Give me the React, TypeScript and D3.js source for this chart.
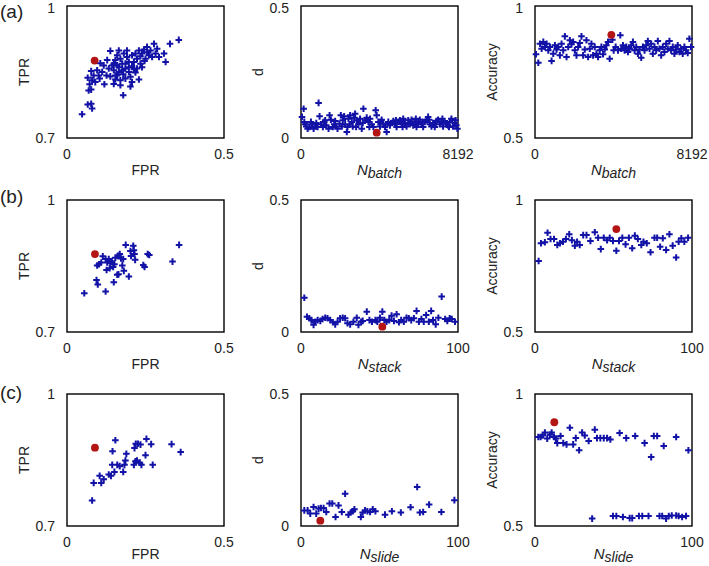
import React from "react";
import * as d3 from "d3";

// ---------- data ----------
const rocBatch: [number, number][] = [
  [0.048, 0.754], [0.066, 0.776], [0.077, 0.778], [0.08, 0.767], [0.069, 0.808], [0.077, 0.81],
  [0.072, 0.822], [0.066, 0.837], [0.08, 0.831], [0.09, 0.827], [0.077, 0.852], [0.104, 0.835],
  [0.119, 0.822], [0.106, 0.87], [0.112, 0.85], [0.126, 0.842], [0.101, 0.842], [0.138, 0.898],
  [0.16, 0.888], [0.154, 0.877], [0.144, 0.865], [0.133, 0.858], [0.149, 0.854], [0.16, 0.842],
  [0.17, 0.831], [0.154, 0.833], [0.165, 0.861], [0.176, 0.869], [0.181, 0.892], [0.191, 0.884],
  [0.186, 0.858], [0.197, 0.85], [0.179, 0.845], [0.186, 0.835], [0.202, 0.839], [0.207, 0.863],
  [0.213, 0.873], [0.223, 0.88], [0.218, 0.892], [0.229, 0.899], [0.239, 0.892], [0.245, 0.901],
  [0.255, 0.895], [0.261, 0.888], [0.25, 0.88], [0.234, 0.869], [0.223, 0.858], [0.229, 0.833],
  [0.202, 0.817], [0.179, 0.797], [0.271, 0.884], [0.282, 0.892], [0.293, 0.884], [0.309, 0.892],
  [0.314, 0.873], [0.277, 0.914], [0.328, 0.914], [0.356, 0.923], [0.266, 0.899], [0.165, 0.899],
  [0.128, 0.877], [0.117, 0.865], [0.138, 0.84], [0.17, 0.82], [0.149, 0.823], [0.207, 0.827],
  [0.218, 0.849], [0.239, 0.861], [0.197, 0.873], [0.17, 0.88], [0.191, 0.899], [0.207, 0.888],
  [0.234, 0.886], [0.16, 0.865], [0.176, 0.854], [0.186, 0.869], [0.197, 0.861], [0.149, 0.869],
  [0.287, 0.903], [0.255, 0.907], [0.247, 0.875], [0.213, 0.856], [0.165, 0.85], [0.154, 0.842],
  [0.096, 0.854], [0.085, 0.842],
];
const dBatch: [number, number][] = [
  [52, 0.08], [139, 0.111], [173, 0.061], [277, 0.044], [346, 0.035], [450, 0.042], [572, 0.052],
  [658, 0.035], [745, 0.044], [797, 0.057], [918, 0.133], [970, 0.082], [1039, 0.052], [1143, 0.042],
  [1212, 0.061], [1316, 0.048], [1437, 0.035], [1490, 0.086], [1559, 0.069], [1663, 0.042],
  [1732, 0.052], [1836, 0.044], [1905, 0.035], [2009, 0.054], [2078, 0.086], [2182, 0.067],
  [2252, 0.082], [2304, 0.052], [2390, 0.023], [2425, 0.042], [2477, 0.073], [2564, 0.086],
  [2650, 0.061], [2702, 0.044], [2771, 0.077], [2823, 0.092], [2910, 0.067], [2996, 0.052],
  [3083, 0.073], [3170, 0.035], [3256, 0.111], [3343, 0.067], [3429, 0.077], [3516, 0.061],
  [3603, 0.073], [3689, 0.052], [3776, 0.042], [3897, 0.105], [3949, 0.086], [4036, 0.061],
  [4122, 0.044], [4209, 0.069], [4295, 0.054], [4382, 0.042], [4469, 0.023], [4555, 0.061],
  [4642, 0.048], [4728, 0.057], [4815, 0.064], [4902, 0.052], [4988, 0.042], [5075, 0.061],
  [5161, 0.067], [5248, 0.052], [5334, 0.073], [5421, 0.057], [5508, 0.044], [5594, 0.067],
  [5681, 0.052], [5768, 0.069], [5854, 0.048], [5941, 0.061], [6027, 0.042], [6114, 0.054],
  [6200, 0.069], [6287, 0.052], [6374, 0.042], [6460, 0.061], [6547, 0.067], [6633, 0.08],
  [6720, 0.052], [6807, 0.044], [6893, 0.057], [6980, 0.042], [7066, 0.064], [7153, 0.069],
  [7240, 0.052], [7326, 0.061], [7413, 0.044], [7499, 0.064], [7586, 0.054], [7672, 0.048],
  [7759, 0.061], [7846, 0.073], [7932, 0.044], [8019, 0.057], [8105, 0.048], [8158, 0.035],
  [225, 0.052], [519, 0.061], [866, 0.042], [1264, 0.067], [1784, 0.064], [2130, 0.044],
  [2529, 0.052], [2875, 0.042], [3222, 0.057], [3568, 0.042], [4157, 0.061], [4503, 0.052],
  [4953, 0.067], [5300, 0.042], [5646, 0.057], [5992, 0.073], [6339, 0.061], [6685, 0.069],
  [7032, 0.052], [7378, 0.073], [7724, 0.042], [8071, 0.067],
];
const accBatch: [number, number][] = [
  [52, 0.817], [173, 0.785], [260, 0.857], [346, 0.838], [433, 0.864], [520, 0.845], [606, 0.857],
  [693, 0.832], [779, 0.845], [866, 0.792], [953, 0.819], [1039, 0.851], [1126, 0.835],
  [1212, 0.845], [1299, 0.813], [1386, 0.857], [1472, 0.832], [1559, 0.885], [1645, 0.807],
  [1732, 0.845], [1819, 0.87], [1905, 0.855], [1992, 0.864], [2078, 0.832], [2165, 0.813],
  [2252, 0.845], [2338, 0.86], [2425, 0.885], [2511, 0.813], [2598, 0.835], [2685, 0.87],
  [2771, 0.807], [2858, 0.838], [2944, 0.857], [3031, 0.813], [3118, 0.845], [3204, 0.819],
  [3291, 0.807], [3377, 0.832], [3464, 0.845], [3551, 0.817], [3637, 0.835], [3724, 0.851],
  [3810, 0.864], [3897, 0.8], [4036, 0.872], [4105, 0.832], [4209, 0.845], [4330, 0.832],
  [4451, 0.889], [4503, 0.838], [4590, 0.851], [4676, 0.832], [4763, 0.845], [4850, 0.826],
  [4936, 0.838], [5023, 0.851], [5109, 0.864], [5196, 0.832], [5283, 0.845], [5369, 0.819],
  [5456, 0.835], [5542, 0.804], [5629, 0.845], [5716, 0.832], [5802, 0.851], [5889, 0.867],
  [5976, 0.838], [6062, 0.857], [6149, 0.819], [6235, 0.845], [6322, 0.832], [6409, 0.867],
  [6495, 0.838], [6582, 0.813], [6668, 0.845], [6755, 0.826], [6842, 0.857], [6928, 0.838],
  [7015, 0.867], [7102, 0.832], [7188, 0.845], [7275, 0.819], [7362, 0.835], [7448, 0.851],
  [7535, 0.826], [7621, 0.838], [7708, 0.819], [7795, 0.845], [7881, 0.832], [7968, 0.822],
  [8054, 0.876], [8140, 0.845],
];
const rocStack: [number, number][] = [
  [0.055, 0.788], [0.094, 0.818], [0.098, 0.808], [0.123, 0.792], [0.149, 0.813], [0.16, 0.83],
  [0.164, 0.831], [0.181, 0.839], [0.197, 0.826], [0.096, 0.851], [0.102, 0.854], [0.109, 0.858],
  [0.114, 0.872], [0.123, 0.866], [0.128, 0.858], [0.133, 0.866], [0.138, 0.856], [0.143, 0.861],
  [0.147, 0.848], [0.151, 0.854], [0.126, 0.841], [0.136, 0.845], [0.154, 0.869], [0.162, 0.873],
  [0.168, 0.877], [0.172, 0.867], [0.179, 0.866], [0.176, 0.851], [0.187, 0.898], [0.202, 0.884],
  [0.204, 0.873], [0.211, 0.896], [0.213, 0.886], [0.215, 0.877], [0.217, 0.864], [0.243, 0.852],
  [0.247, 0.848], [0.257, 0.877], [0.262, 0.875], [0.336, 0.86], [0.357, 0.898],
];
const dStack: [number, number][] = [
  [2.1, 0.13], [3.8, 0.058], [5.3, 0.052], [6.6, 0.045], [8.0, 0.027], [9.1, 0.039], [10.6, 0.045],
  [12.3, 0.042], [13.7, 0.049], [15.4, 0.054], [16.9, 0.052], [18.6, 0.045], [20.3, 0.037],
  [21.8, 0.029], [23.3, 0.039], [24.9, 0.052], [26.6, 0.054], [28.1, 0.052], [29.6, 0.033],
  [31.3, 0.029], [33.4, 0.039], [35.5, 0.054], [36.6, 0.027], [38.3, 0.039], [39.3, 0.042],
  [41.9, 0.077], [43.6, 0.045], [45.2, 0.039], [47.4, 0.045], [48.6, 0.039], [50.3, 0.054],
  [51.8, 0.077], [53.1, 0.045], [54.5, 0.039], [56.2, 0.045], [57.7, 0.062], [59.2, 0.042],
  [60.9, 0.067], [62.4, 0.037], [63.8, 0.045], [65.5, 0.039], [67.2, 0.054], [68.7, 0.052],
  [70.2, 0.045], [71.9, 0.052], [73.6, 0.08], [75.1, 0.039], [76.7, 0.049], [78.2, 0.039],
  [79.7, 0.064], [81.4, 0.039], [82.9, 0.08], [84.1, 0.045], [85.8, 0.029], [87.5, 0.054],
  [89.6, 0.134], [91.8, 0.049], [93.2, 0.042], [94.7, 0.052], [96.0, 0.049], [98.1, 0.039],
];
const accStack: [number, number][] = [
  [2.3, 0.769], [3.8, 0.836], [6.3, 0.84], [8.0, 0.876], [9.9, 0.852], [12.1, 0.852], [14.2, 0.83],
  [15.9, 0.836], [17.8, 0.842], [19.7, 0.852], [21.8, 0.87], [23.5, 0.848], [25.4, 0.827],
  [26.8, 0.842], [28.5, 0.83], [30.7, 0.867], [32.8, 0.867], [35.3, 0.845], [38.1, 0.878],
  [40.2, 0.857], [41.9, 0.814], [43.8, 0.857], [45.9, 0.848], [47.6, 0.857], [49.7, 0.845],
  [51.8, 0.808], [53.5, 0.845], [55.6, 0.857], [57.7, 0.832], [59.8, 0.857], [61.9, 0.817],
  [63.6, 0.865], [65.5, 0.852], [67.7, 0.83], [69.1, 0.842], [71.2, 0.836], [73.6, 0.802],
  [76.1, 0.857], [77.8, 0.857], [79.7, 0.823], [81.4, 0.855], [83.5, 0.811], [85.6, 0.87],
  [87.7, 0.827], [89.9, 0.782], [91.5, 0.842], [93.2, 0.855], [95.1, 0.842], [97.5, 0.857],
];
const rocSlide: [number, number][] = [
  [0.08, 0.758], [0.085, 0.798], [0.104, 0.814], [0.109, 0.798], [0.117, 0.806], [0.133, 0.817],
  [0.14, 0.814], [0.151, 0.823], [0.144, 0.839], [0.16, 0.839], [0.168, 0.836], [0.179, 0.823],
  [0.183, 0.839], [0.186, 0.849], [0.189, 0.864], [0.145, 0.87], [0.154, 0.895], [0.213, 0.839],
  [0.218, 0.847], [0.223, 0.849], [0.232, 0.844], [0.237, 0.839], [0.215, 0.877], [0.219, 0.887],
  [0.226, 0.887], [0.234, 0.885], [0.25, 0.861], [0.253, 0.898], [0.268, 0.886], [0.273, 0.839],
  [0.333, 0.886], [0.362, 0.868],
];
const dSlide: [number, number][] = [
  [2.1, 0.059], [4.2, 0.059], [5.9, 0.047], [8.0, 0.072], [9.7, 0.047], [11.2, 0.066], [12.7, 0.068],
  [14.4, 0.068], [16.1, 0.053], [18.2, 0.085], [19.9, 0.085], [22.0, 0.034], [23.9, 0.078],
  [26.0, 0.053], [28.1, 0.122], [30.2, 0.043], [31.7, 0.051], [33.0, 0.056], [34.0, 0.063],
  [38.1, 0.034], [39.3, 0.051], [40.8, 0.059], [42.3, 0.056], [44.0, 0.053], [45.7, 0.063],
  [47.4, 0.056], [53.5, 0.043], [57.9, 0.056], [63.6, 0.051], [69.8, 0.071], [74.0, 0.148],
  [75.7, 0.051], [77.8, 0.053], [81.6, 0.081], [89.4, 0.053], [97.7, 0.098],
];
const accSlide: [number, number][] = [
  [2.1, 0.837], [3.6, 0.837], [4.9, 0.843], [6.3, 0.854], [7.8, 0.831], [9.5, 0.846], [10.6, 0.854],
  [12.1, 0.837], [13.3, 0.831], [14.2, 0.814], [16.3, 0.841], [18.0, 0.814], [20.1, 0.809],
  [22.2, 0.872], [24.3, 0.809], [26.0, 0.833], [28.1, 0.787], [30.0, 0.854], [31.7, 0.843],
  [34.2, 0.822], [38.1, 0.865], [39.5, 0.833], [41.6, 0.833], [43.8, 0.833], [45.9, 0.833],
  [48.0, 0.828], [53.9, 0.852], [58.1, 0.833], [63.8, 0.841], [69.8, 0.814], [74.0, 0.761],
  [75.7, 0.841], [77.8, 0.841], [82.0, 0.803], [89.9, 0.837], [97.7, 0.787],
  [36.4, 0.528], [49.7, 0.538], [51.8, 0.538], [56.0, 0.534], [60.3, 0.53], [61.9, 0.53],
  [66.2, 0.538], [68.3, 0.538], [72.3, 0.538], [79.3, 0.538], [81.0, 0.538], [83.5, 0.528],
  [85.2, 0.538], [87.1, 0.54], [89.9, 0.54], [91.5, 0.538], [93.7, 0.534], [96.2, 0.538],
];
const bestPoints: [number, number][] = [
  [0.088, 0.876], [3949, 0.02], [3983, 0.891],
  [0.089, 0.877], [51.8, 0.02], [51.8, 0.89],
  [0.089, 0.878], [12.3, 0.02], [12.3, 0.893],
];
const rowLabels = ["(a)", "(b)", "(c)"];
const subscripts = ["batch", "stack", "slide"];
const nMax = [8192, 100, 100];
const rocXTicks = [0, 0.5];
const rocYTicks = [0.7, 1];
const dYTicks = [0, 0.5];
const accYTicks = [0.5, 1];

// ---------- layout ----------
const colX = [67, 301, 535];
const rowY = [6, 200, 394];
const PW = 157;
const PH = 132;
const BLUE = "#1212A6";
const RED = "#B31414";
const FONT = "'Liberation Sans', Arial, sans-serif";

type PanelSpec = {
  data: [number, number][];
  best: [number, number];
  xDomain: [number, number];
  yDomain: [number, number];
  xTicks: number[];
  yTicks: number[];
  xLabel: string;
  xSub?: string;
  yLabel: string;
};

function Panel({ spec, x0, y0 }: { spec: PanelSpec; x0: number; y0: number }) {
  const xs = d3.scaleLinear().domain(spec.xDomain).range([x0, x0 + PW]);
  const ys = d3.scaleLinear().domain(spec.yDomain).range([y0 + PH, y0]);
  const arm = 3.3;
  const plus = d3.path();
  spec.data.forEach(([a, b]) => {
    const px = xs(a);
    const py = ys(b);
    plus.moveTo(px - arm, py);
    plus.lineTo(px + arm, py);
    plus.moveTo(px, py - arm);
    plus.lineTo(px, py + arm);
  });
  const titleY = Math.min(y0 + PH + 37, 559);
  return (
    <g>
      <rect x={x0} y={y0} width={PW} height={PH} fill="none" stroke="#000" strokeWidth={1.4} />
      <path d={plus.toString()} stroke={BLUE} strokeWidth={2} fill="none" />
      <circle cx={xs(spec.best[0])} cy={ys(spec.best[1])} r={3.9} fill={RED} />
      {spec.xTicks.map((t) => (
        <text key={"x" + t} x={xs(t)} y={y0 + PH + 21} textAnchor="middle" fontSize={14} fontFamily={FONT} fill="#222">
          {String(t)}
        </text>
      ))}
      {spec.yTicks.map((t) => (
        <text
          key={"y" + t}
          x={x0 - 12}
          y={Math.max(ys(t) + 5, 13)}
          textAnchor="end"
          fontSize={14}
          fontFamily={FONT}
          fill="#222"
        >
          {String(t)}
        </text>
      ))}
      <text x={x0 + PW / 2} y={titleY} textAnchor="middle" fontSize={14} fontFamily={FONT} fill="#222">
        {spec.xSub ? (
          <>
            <tspan fontStyle="italic" fontSize={15}>{spec.xLabel}</tspan>
            <tspan fontStyle="italic" fontSize={14} dy={3}>{spec.xSub}</tspan>
          </>
        ) : (
          spec.xLabel
        )}
      </text>
      <text
        transform={`translate(${x0 - 43},${y0 + PH / 2}) rotate(-90)`}
        dy="0.35em"
        textAnchor="middle"
        fontSize={14}
        fontFamily={FONT}
        fill="#222"
      >
        {spec.yLabel}
      </text>
    </g>
  );
}

export default function App() {
  const rocSets = [rocBatch, rocStack, rocSlide];
  const dSets = [dBatch, dStack, dSlide];
  const accSets = [accBatch, accStack, accSlide];
  const labelY = [18, 203, 399];
  return (
    <svg
      width={709}
      height={566}
      style={{ position: "absolute", left: 0, top: 0, background: "#fff" }}
    >
      <rect width={709} height={566} fill="#fff" />
      {[0, 1, 2].map((r) => {
        const specs: PanelSpec[] = [
          {
            data: rocSets[r], best: bestPoints[r * 3], xDomain: [0, 0.5], yDomain: [0.7, 1],
            xTicks: rocXTicks, yTicks: rocYTicks, xLabel: "FPR", yLabel: "TPR",
          },
          {
            data: dSets[r], best: bestPoints[r * 3 + 1], xDomain: [0, nMax[r]], yDomain: [0, 0.5],
            xTicks: [0, nMax[r]], yTicks: dYTicks, xLabel: "N", xSub: subscripts[r], yLabel: "d",
          },
          {
            data: accSets[r], best: bestPoints[r * 3 + 2], xDomain: [0, nMax[r]], yDomain: [0.5, 1],
            xTicks: [0, nMax[r]], yTicks: accYTicks, xLabel: "N", xSub: subscripts[r], yLabel: "Accuracy",
          },
        ];
        return (
          <g key={r}>
            <text x={0} y={labelY[r]} fontSize={19} fontFamily={FONT} fill="#222">
              {rowLabels[r]}
            </text>
            {specs.map((s, c) => (
              <Panel key={c} spec={s} x0={colX[c]} y0={rowY[r]} />
            ))}
          </g>
        );
      })}
    </svg>
  );
}
